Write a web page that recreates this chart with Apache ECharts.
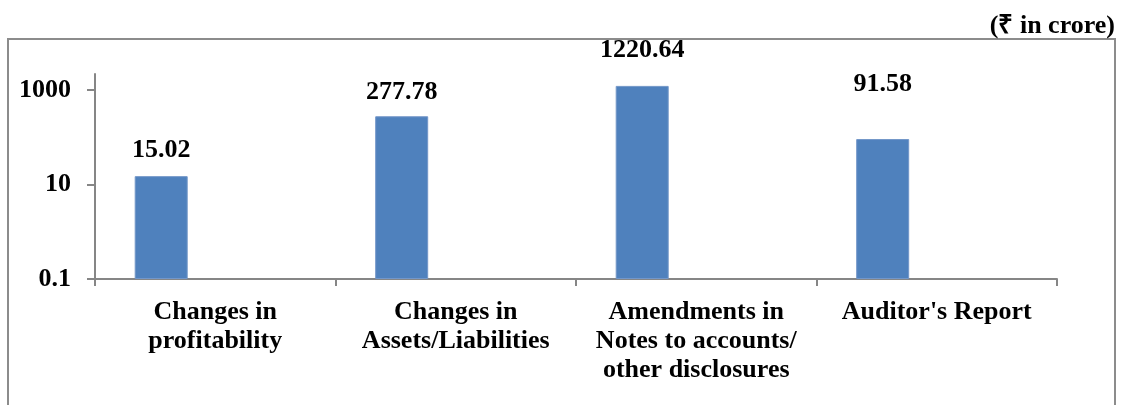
<!DOCTYPE html>
<html>
<head>
<meta charset="utf-8">
<script src="https://cdn.jsdelivr.net/npm/echarts@6/dist/echarts.min.js"></script>
<style>
  html, body { margin: 0; padding: 0; background: #fff; }
  #chart { width: 1122px; height: 405px; }
</style>
</head>
<body>
<div id="chart"></div>
<script>
// categories and values (₹ in crore)
var categories = [
  'Changes in\nprofitability',
  'Changes in\nAssets/Liabilities',
  'Amendments in\nNotes to accounts/\nother disclosures',
  "Auditor's Report"
];
var amounts = [15.02, 277.78, 1220.64, 91.58];
var yTicks = [0.1, 10, 1000];

// label lift above each bar (style only)
var labelLift = [13, 11, 23, 42];

var font = '"Liberation Serif", "Times New Roman", serif';

var chart = echarts.init(document.getElementById('chart'));

var option = {
  animation: false,
  title: {
    text: '(₹ in crore)',
    right: 2,
    top: 8,
    textStyle: { fontFamily: font, fontWeight: 'bold', fontSize: 26, color: '#000' }
  },
  graphic: [{
    type: 'rect',
    shape: { x: 8, y: 39, width: 1107, height: 400 },
    style: { fill: 'none', stroke: '#8c8c8c', lineWidth: 2 },
    silent: true
  }],
  grid: { left: 95, right: 65, top: 74, bottom: 126 },
  xAxis: {
    type: 'category',
    data: categories,
    axisLine: { lineStyle: { color: '#868686', width: 2 } },
    axisTick: { show: true, length: 7, lineStyle: { color: '#868686', width: 2 } },
    axisLabel: {
      interval: 0,
      margin: 19,
      fontFamily: font,
      fontWeight: 'bold',
      fontSize: 26,
      lineHeight: 29,
      color: '#000'
    }
  },
  yAxis: {
    type: 'log',
    logBase: 10,
    min: 0.1,
    max: 2180,
    startValue: 0.1,
    axisLine: { show: true, lineStyle: { color: '#868686', width: 2 } },
    axisTick: { show: true, length: 8, customValues: yTicks, lineStyle: { color: '#868686', width: 2 } },
    splitLine: { show: false },
    axisLabel: {
      customValues: yTicks,
      margin: 24,
      fontFamily: font,
      fontWeight: 'bold',
      fontSize: 26,
      color: '#000',
      formatter: function (v) { return String(v); }
    }
  },
  series: [
    {
      type: 'bar',
      barWidth: 53,
      barGap: '104%',
      data: amounts.map(function (v, i) {
        return { value: v, label: { distance: labelLift[i] } };
      }),
      itemStyle: { color: '#4f81bd', borderColor: '#7397c9', borderWidth: 1 },
      label: {
        show: true,
        position: 'top',
        fontFamily: font,
        fontWeight: 'bold',
        fontSize: 26,
        color: '#000',
        formatter: function (p) { return p.value.toFixed(2); }
      }
    },
    {
      type: 'bar',
      barWidth: 53,
      data: amounts.map(function () { return null; })
    }
  ]
};

chart.setOption(option);
</script>
</body>
</html>
